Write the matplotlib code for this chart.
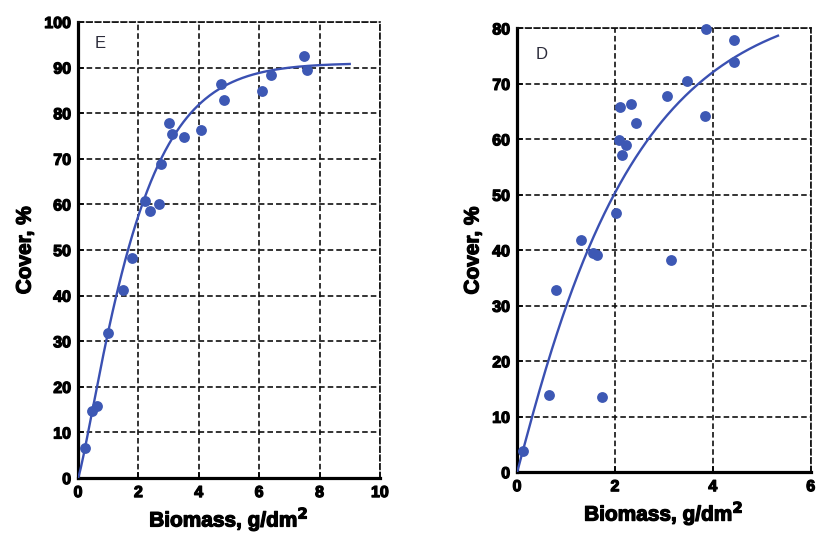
import numpy as np
import matplotlib as mpl
mpl.use("Agg")
import matplotlib.pyplot as plt
import matplotlib.patheffects as pe

# panel E (left)
e_biomass = [0.24, 0.45, 0.62, 0.98, 1.48, 1.80, 2.22, 2.40, 2.68, 2.74,
             3.02, 3.11, 3.50, 4.07, 4.73, 4.83, 6.08, 6.39, 7.48, 7.58]
e_cover = [6.5, 14.8, 15.8, 31.8, 41.2, 48.2, 60.8, 58.6, 60.2, 68.8,
           77.9, 75.4, 74.8, 76.4, 86.4, 82.9, 84.9, 88.4, 92.5, 89.5]
# fitted curve parameters: a * (1 - exp(-(b x)^c))
e_fit = (91.0, 0.50, 1.2)
e_fit_xmax = 9.0

# panel D (right)
d_biomass = [0.13, 0.66, 0.80, 1.30, 1.56, 1.63, 1.73, 2.03, 2.08, 2.10,
             2.14, 2.22, 2.32, 2.43, 3.06, 3.14, 3.48, 3.84, 3.85, 4.43, 4.43]
d_cover = [3.8, 14.0, 32.8, 41.8, 39.5, 39.1, 13.6, 46.7, 59.9, 65.9,
           57.2, 58.9, 66.4, 62.9, 67.9, 38.2, 70.5, 64.3, 79.9, 78.0, 73.9]
d_fit = (86.0, 0.443, 1.05)
d_fit_xmax = 5.33

mpl.rcParams["lines.scale_dashes"] = False
mpl.rcParams["font.family"] = ["Liberation Sans", "DejaVu Sans"]

POINT_COLOR = "#3d58b4"
LINE_COLOR = "#3a50b2"
DASH = (0, (4, 2.2))
THICK = [pe.withStroke(linewidth=0.9, foreground="black")]


def fit_curve(params, xmax):
    a, b, c = params
    x = np.linspace(0, xmax, 300)
    return x, a * (1 - np.exp(-(b * x) ** c))


def style_axes(ax, xmax, ymax, xstep, ystep, letter, letter_pos):
    ax.set_xlim(0, xmax)
    ax.set_ylim(0, ymax)
    ax.set_xticks(np.arange(0, xmax + 0.01, xstep))
    ax.set_yticks(np.arange(0, ymax + 0.01, ystep))
    ax.grid(True, color="#111111", linestyle=DASH, linewidth=1.2)
    for side in ["left", "bottom"]:
        ax.spines[side].set_linewidth(2.3)
        ax.spines[side].set_color("black")
    for side in ["top", "right"]:
        ax.spines[side].set_linestyle(DASH)
        ax.spines[side].set_linewidth(1.2)
        ax.spines[side].set_color("#111111")
    ax.tick_params(direction="in", length=4, width=1.2, labelsize=11.5,
                   pad=5)
    for lab in ax.get_xticklabels() + ax.get_yticklabels():
        lab.set_fontweight("bold")
        lab.set_path_effects(THICK)
    ax.set_xlabel("Biomass, g/dm$^\\mathbf{2}$", fontsize=15,
                  fontweight="bold", labelpad=3, path_effects=THICK)
    ax.set_ylabel("Cover, %", fontsize=15, fontweight="bold", labelpad=7,
                  path_effects=THICK)
    ax.text(letter_pos[0], letter_pos[1], letter, fontsize=12,
            color="#2b2b3a", ha="center", va="center")


fig = plt.figure(figsize=(8.16, 5.36), dpi=100)
ax1 = fig.add_axes([0.0956, 0.108, 0.370, 0.851])
ax2 = fig.add_axes([0.6336, 0.119, 0.360, 0.828])

x, y = fit_curve(e_fit, e_fit_xmax)
ax1.plot(x, y, color=LINE_COLOR, lw=1.7, zorder=3)
ax1.plot(e_biomass, e_cover, "o", color=POINT_COLOR, ms=7.8, mew=0,
         zorder=4, clip_on=False)
style_axes(ax1, 10, 100, 2, 10, "E", (0.75, 95.3))

x, y = fit_curve(d_fit, d_fit_xmax)
ax2.plot(x, y, color=LINE_COLOR, lw=1.7, zorder=3)
ax2.plot(d_biomass, d_cover, "o", color=POINT_COLOR, ms=7.8, mew=0,
         zorder=4, clip_on=False)
style_axes(ax2, 6, 80, 2, 10, "D", (0.5, 75.3))

fig.savefig("out.png", dpi=100)
